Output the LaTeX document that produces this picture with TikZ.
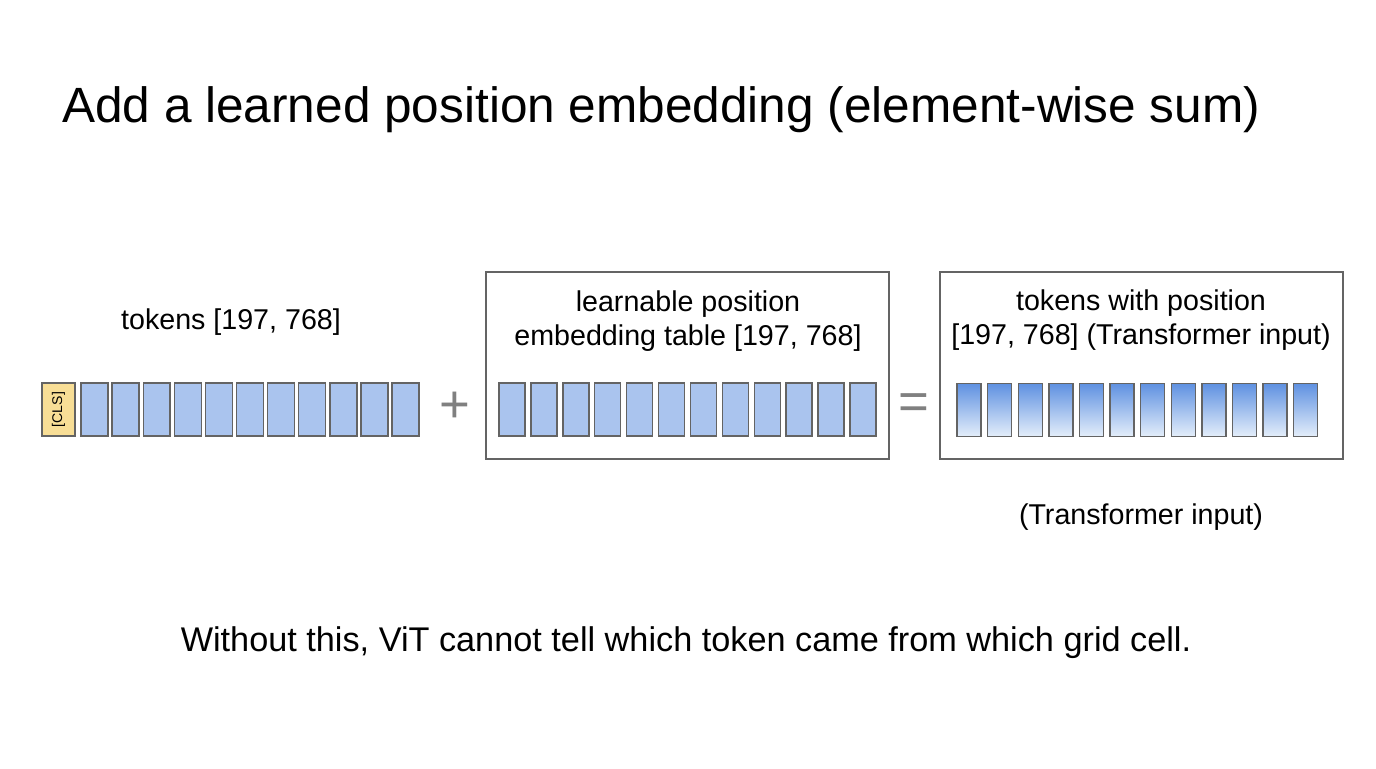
\documentclass[tikz,border=0pt]{standalone}
\usepackage{fontspec}
\setmainfont{Liberation Sans}
\usetikzlibrary{positioning}
\definecolor{cellblue}{RGB}{170,196,238}
\definecolor{celldark}{RGB}{95,145,225}
\definecolor{cellpale}{RGB}{228,238,250}
\definecolor{clsyellow}{RGB}{248,222,150}
\definecolor{edgegray}{RGB}{100,100,100}
\begin{document}
\begin{tikzpicture}[x=0.02cm,y=-0.02cm,
  cell/.style={draw=edgegray,thick,fill=cellblue,minimum width=0.5cm,minimum height=1.06cm,inner sep=0pt},
  sumcell/.style={cell,top color=celldark,bottom color=cellpale,minimum width=0.48cm},
  clscell/.style={cell,fill=clsyellow,minimum width=0.66cm},
  panel/.style={draw=edgegray,thick,inner sep=0pt},
  label/.style={font=\fontsize{16.3}{19.5}\selectfont,align=center},
  op/.style={font=\fontsize{30}{30}\selectfont,text=gray}]

  \useasboundingbox (0,0) rectangle (1376,768);

  \node[anchor=west,font=\fontsize{28.2}{32}\selectfont] (title) at (56,110)
    {Add a learned position embedding (element-wise sum)};

  % input tokens
  \node[clscell] (cls) at (58.5,409.5) {\rotatebox{90}{\fontsize{8}{8}\selectfont [CLS]}};
  \foreach \i in {1,...,11}
    \node[cell,minimum width=0.54cm] (tok\i) at ({94.5+(\i-1)*31.1},409.5) {};
  \node[label] (toklabel) at (231,322) {tokens [197, 768]};

  \node[op] (plus) at (455,407) {+};

  % position table
  \node[panel,minimum width=8.06cm,minimum height=3.74cm] (postab) at (687.5,365.5) {};
  \foreach \i in {1,...,12}
    \node[cell,minimum width=0.52cm] (pos\i) at ({512+(\i-1)*31.9},409.5) {};
  \node[label] (poslabel) at (688,321) {learnable position\\embedding table [197, 768]};

  \node[op] (equals) at (914,407) {=};

  % result
  \node[panel,minimum width=8.06cm,minimum height=3.74cm] (outtab) at (1141.5,365.5) {};
  \foreach \i in {1,...,12}
    \node[sumcell] (out\i) at ({969+(\i-1)*30.6},410) {};
  \node[label] (outlabel) at (1141,320) {tokens with position\\{[197, 768]} (Transformer input)};
  \node[label] (outnote) at (1141,517) {(Transformer input)};

  \node[font=\fontsize{19.5}{23}\selectfont] (caption) at (686,643)
    {Without this, ViT cannot tell which token came from which grid cell.};
\end{tikzpicture}
\end{document}
